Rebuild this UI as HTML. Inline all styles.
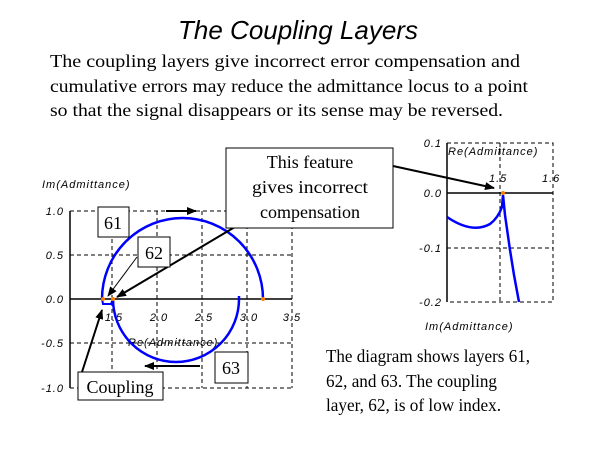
<!DOCTYPE html>
<html><head><style>
body{margin:0;background:#fff;}
svg{display:block;}
.t{font-family:"Liberation Serif",serif;font-size:18px;fill:#000;}
.s{font-family:"Liberation Sans",sans-serif;font-size:11px;font-style:italic;fill:#000;letter-spacing:1px;}
</style></head><body>
<svg width="600" height="450" viewBox="0 0 600 450">
<defs><marker id="a" markerWidth="10" markerHeight="8" refX="9" refY="4" orient="auto" markerUnits="userSpaceOnUse"><path d="M0,0 L10,4 L0,8 z" fill="#000"/></marker></defs>
<text x="298" y="39" text-anchor="middle" font-family="Liberation Sans,sans-serif" font-size="26" font-style="italic">The Coupling Layers</text>
<text class="t" x="50" y="67" font-size="19" textLength="470" lengthAdjust="spacingAndGlyphs">The coupling layers give incorrect error compensation and</text>
<text class="t" x="50" y="92" font-size="19" textLength="478" lengthAdjust="spacingAndGlyphs">cumulative errors may reduce the admittance locus to a point</text>
<text class="t" x="50" y="116" font-size="19" textLength="453" lengthAdjust="spacingAndGlyphs">so that the signal disappears or its sense may be reversed.</text>
<!-- left plot -->
<g stroke="#000" stroke-dasharray="4,3" stroke-width="1" fill="none">
<path d="M112,211V388M157,211V388M202,211V388M247,211V388M292,211V388M70,211H292M70,255H292M70,343H292M70,388H292"/>
</g>
<path d="M70,211V388M70,299H292" stroke="#000" stroke-width="1.5"/>
<g class="s" text-anchor="end"><text x="64" y="215">1.0</text><text x="64" y="259">0.5</text><text x="64" y="303">0.0</text><text x="64" y="347">-0.5</text><text x="64" y="392">-1.0</text></g>
<g class="s" text-anchor="middle"><text x="114" y="321">1.5</text><text x="159" y="321">2.0</text><text x="204" y="321">2.5</text><text x="249" y="321">3.0</text><text x="292" y="321">3.5</text></g>
<text class="s" x="128" y="346">Re(Admittance)</text>
<text class="s" x="42" y="188">Im(Admittance)</text>
<path d="M102,299 A80.5,81 0 0 1 263,299" stroke="#0000ff" stroke-width="2.5" fill="none"/>
<path d="M113,299 A63,63 0 0 0 239,299 L239,296" stroke="#0000ff" stroke-width="2.5" fill="none"/>
<path d="M102,299 L103,304 L111,304 L113,299" stroke="#0000ff" stroke-width="2" fill="none"/>
<circle cx="103" cy="299" r="2" fill="#ff8000"/><circle cx="113" cy="299" r="2" fill="#ff8000"/><circle cx="263" cy="299" r="2" fill="#ff8000"/>
<!-- right plot -->
<g stroke="#000" stroke-dasharray="4,3" fill="none"><path d="M447,143H553V302H447M500,143V302M447,248H553"/></g>
<path d="M447,143V302M447,193H553" stroke="#000" stroke-width="1.5"/>
<g class="s" text-anchor="end"><text x="442" y="147">0.1</text><text x="442" y="197">0.0</text><text x="442" y="252">-0.1</text><text x="442" y="306">-0.2</text></g>
<text class="s" x="448" y="155">Re(Admittance)</text>
<text class="s" x="489" y="182">1.5</text><text class="s" x="542" y="182">1.6</text>
<text class="s" x="425" y="330">Im(Admittance)</text>
<path d="M447,217 Q472,234 490,224 Q498,218 502,207 L503,195 L505,215 L510,250 L514,275 L519,302" stroke="#0000ff" stroke-width="2.5" fill="none"/>
<circle cx="503" cy="193" r="2" fill="#ff8000"/>
<!-- arrows -->
<g stroke="#000" stroke-width="2" fill="none" marker-end="url(#a)">
<line x1="250" y1="218" x2="117" y2="297"/>
<line x1="393" y1="166" x2="494" y2="188"/>
<line x1="137" y1="257" x2="108" y2="296" stroke-width="1"/>
<line x1="82" y1="372" x2="102" y2="310"/>
<line x1="166" y1="211" x2="196" y2="211"/>
<line x1="200" y1="366" x2="145" y2="366"/>
</g>
<!-- boxes -->
<g fill="#fff" stroke="#000" stroke-width="1">
<rect x="226" y="148" width="167" height="80"/>
<rect x="98" y="207" width="31" height="30"/>
<rect x="138" y="237" width="32" height="30"/>
<rect x="215" y="352" width="33" height="31"/>
<rect x="78" y="372" width="85" height="28"/>
</g>
<g class="t" text-anchor="middle"><text x="310" y="168">This feature</text><text x="310" y="193" textLength="116" lengthAdjust="spacingAndGlyphs">gives incorrect</text><text x="310" y="218">compensation</text>
<text x="113" y="229">61</text><text x="154" y="259">62</text><text x="231" y="374">63</text><text x="120" y="393">Coupling</text></g>
<text class="t" x="326" y="362" textLength="204" lengthAdjust="spacingAndGlyphs">The diagram shows layers 61,</text>
<text class="t" x="326" y="387" textLength="171" lengthAdjust="spacingAndGlyphs">62, and 63. The coupling</text>
<text class="t" x="326" y="411" textLength="175" lengthAdjust="spacingAndGlyphs">layer, 62, is of low index.</text>
</svg>
</body></html>
